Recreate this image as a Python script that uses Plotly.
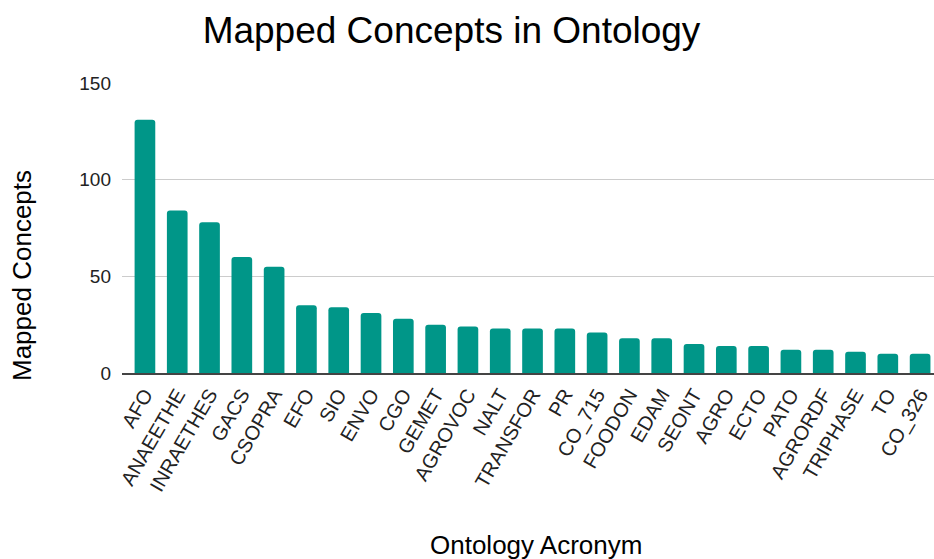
import plotly.graph_objects as go

# Ontologies and the number of concepts mapped into each
ontologies = ["AFO", "ANAEETHE", "INRAETHES", "GACS", "CSOPRA", "EFO", "SIO", "ENVO",
              "CGO", "GEMET", "AGROVOC", "NALT", "TRANSFOR", "PR", "CO_715", "FOODON",
              "EDAM", "SEONT", "AGRO", "ECTO", "PATO", "AGRORDF", "TRIPHASE", "TO", "CO_326"]
mapped_concepts = [131, 84, 78, 60, 55, 35, 34, 31, 28, 25, 24, 23, 23, 23, 21, 18,
                   18, 15, 14, 14, 12, 12, 11, 10, 10]
y_ticks = [0, 50, 100, 150]

W, H = 934, 559
L, R, T, B = 122, 0, 83, 186
plot_w = W - L - R
plot_h = H - T - B
FONT = "Arial, Liberation Sans, sans-serif"


def px_x(px):
    return (px - L) / plot_w


def px_y(py):
    return (H - B - py) / plot_h


fig = go.Figure(
    go.Bar(
        x=ontologies,
        y=mapped_concepts,
        marker=dict(color="#009688", cornerradius=3, line=dict(width=0)),
    )
)

fig.update_layout(
    width=W,
    height=H,
    margin=dict(l=L, r=R, t=T, b=B, pad=0),
    paper_bgcolor="white",
    plot_bgcolor="white",
    bargap=0.36,
    showlegend=False,
    font=dict(family=FONT, color="#222222"),
    title=dict(
        text="Mapped Concepts in Ontology",
        font=dict(size=37, color="#000000", family=FONT),
        x=451.5 / W,
        xanchor="center",
        xref="container",
        y=1 - 30 / H,
        yanchor="middle",
        yref="container",
    ),
    xaxis=dict(
        type="category",
        range=[-0.71, 24.43],
        tickangle=-60,
        tickfont=dict(size=20, color="#222222"),
        showgrid=False,
        showline=True,
        linecolor="#444444",
        linewidth=2,
        ticks="",
        fixedrange=True,
    ),
    yaxis=dict(
        range=[0, 150],
        tickvals=y_ticks,
        tickfont=dict(size=19, color="#222222"),
        showgrid=True,
        gridcolor="#cccccc",
        gridwidth=1,
        zeroline=False,
        showline=False,
        ticks="",
        ticklabelstandoff=10,
        fixedrange=True,
    ),
    annotations=[
        dict(
            text="Mapped Concepts",
            xref="paper", yref="paper",
            x=px_x(22), y=px_y(276),
            xanchor="center", yanchor="middle",
            textangle=-90,
            showarrow=False,
            font=dict(size=26, color="#000000", family=FONT),
        ),
        dict(
            text="Ontology Acronym",
            xref="paper", yref="paper",
            x=px_x(535.5), y=px_y(545),
            xanchor="center", yanchor="middle",
            showarrow=False,
            font=dict(size=26, color="#000000", family=FONT),
        ),
    ],
)

fig.write_html("out.html")
